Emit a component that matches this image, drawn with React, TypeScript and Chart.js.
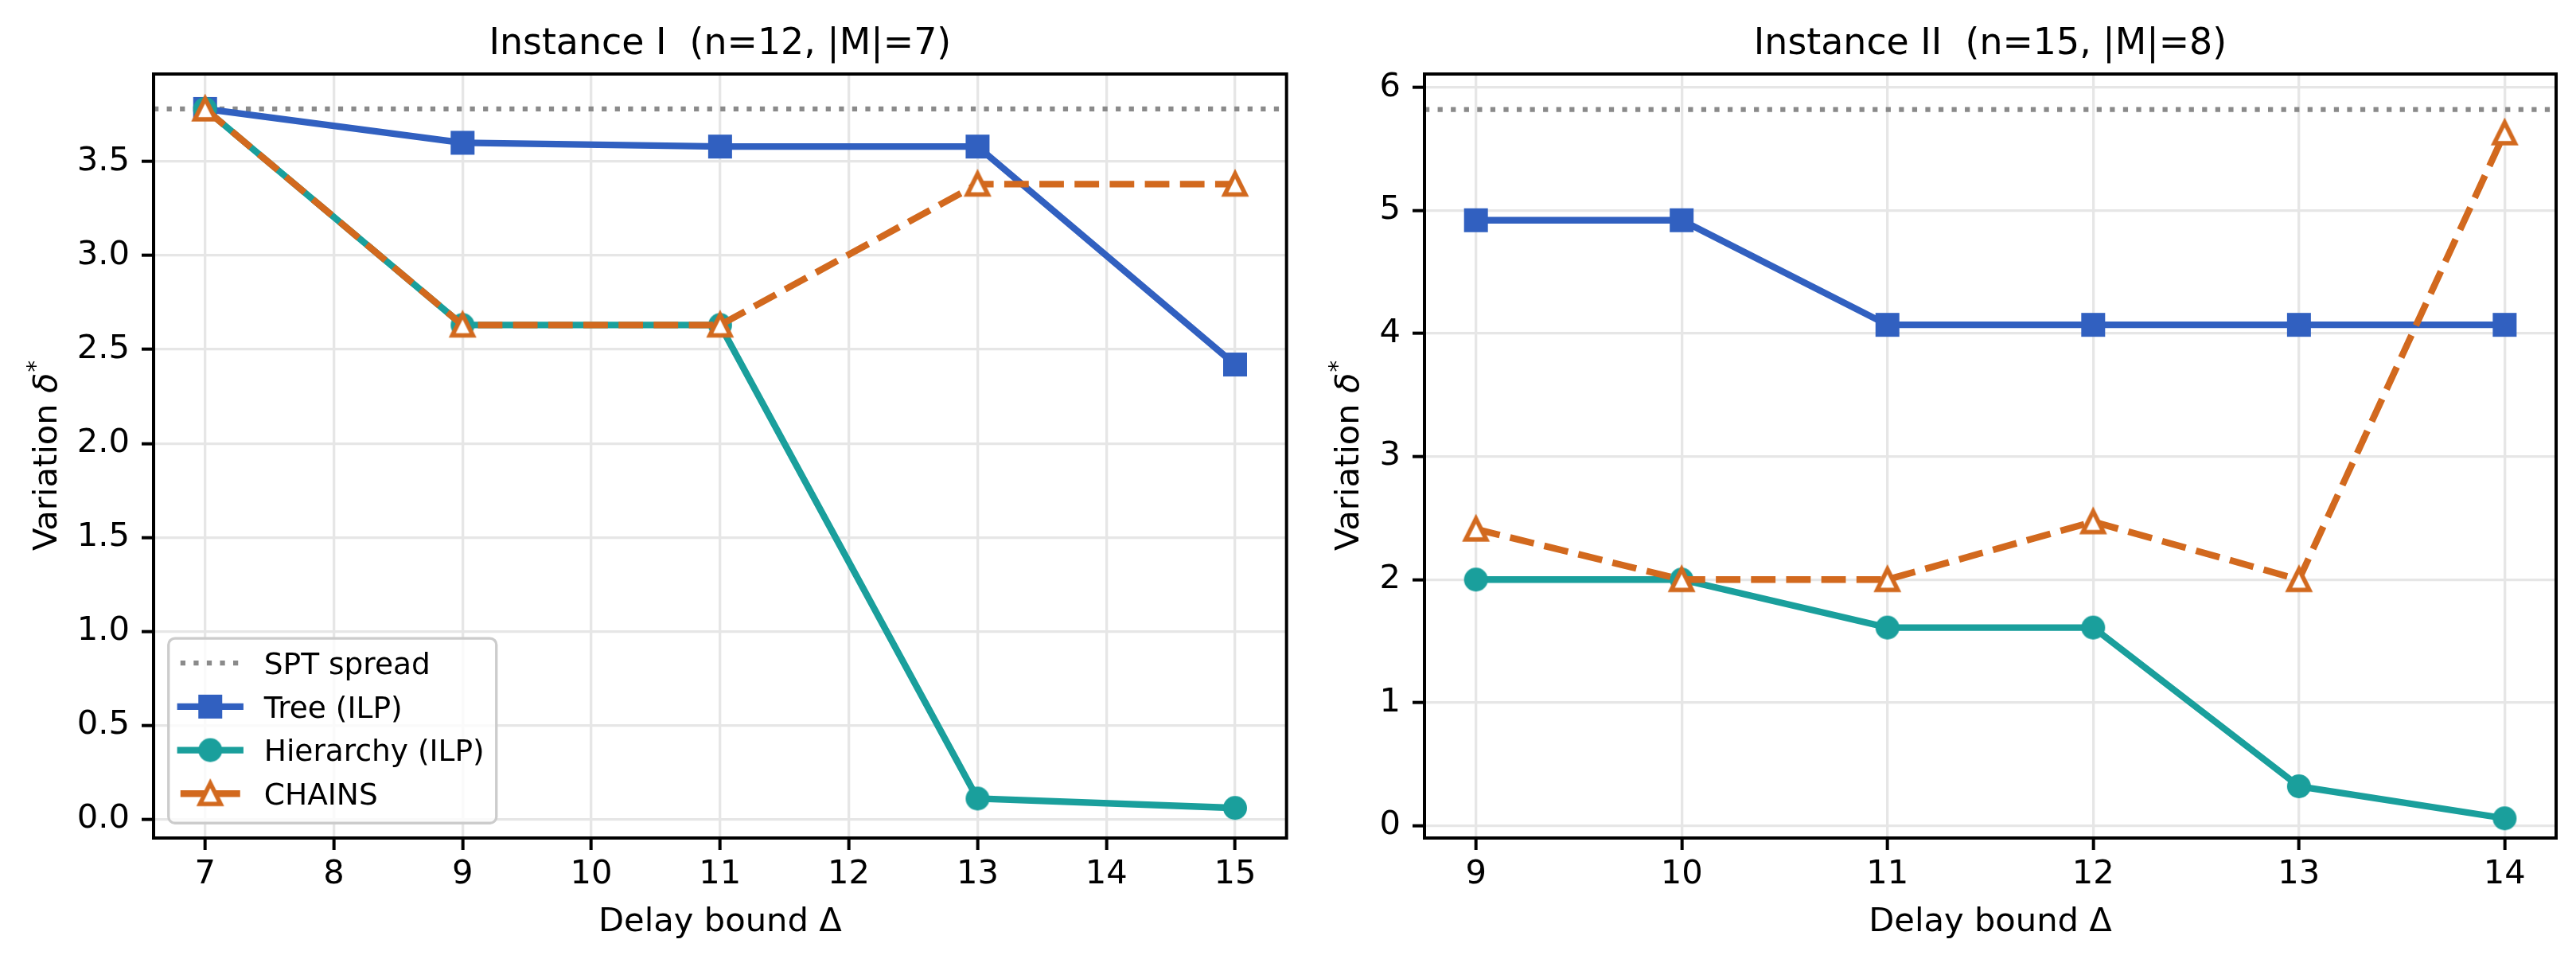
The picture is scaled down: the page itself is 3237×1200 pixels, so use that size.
import React, { useEffect, useRef } from 'react';
import { Chart, registerables } from 'chart.js';

Chart.register(...registerables);

// ---------------- data ----------------
// Instance I  (n=12, |M|=7)
const deltaI = [7, 9, 11, 13, 15];
const treeI = [3.78, 3.6, 3.58, 3.58, 2.42];
const hierI = [3.78, 2.63, 2.63, 0.11, 0.06];
const chainsI = [3.78, 2.63, 2.63, 3.38, 3.38];
const sptI = 3.78;

// Instance II  (n=15, |M|=8)
const deltaII = [9, 10, 11, 12, 13, 14];
const treeII = [4.92, 4.92, 4.07, 4.07, 4.07, 4.07];
const hierII = [2.0, 2.0, 1.61, 1.61, 0.32, 0.06];
const chainsII = [2.41, 2.0, 2.0, 2.47, 2.0, 5.63];
const sptII = 5.82;

const titleI = 'Instance I  (n=12, |M|=7)';
const titleII = 'Instance II  (n=15, |M|=8)';
const seriesLabels = ['SPT spread', 'Tree (ILP)', 'Hierarchy (ILP)', 'CHAINS'];
const xTitle = 'Delay bound Δ';
const yTitleMain = 'Variation ';
const yTitleSym = 'δ';
const yTitleSup = '*';

// ---------------- style ----------------
const FONT = '"DejaVu Sans"';
const PT = 300 / 72;
const TICK_FS = 10 * PT;
const LABEL_FS = 10 * PT;
const LEGEND_FS = 9 * PT;
const TITLE_FS = 11 * PT;
const BLUE = '#3160c0';
const TEAL = '#1a9f9c';
const ORANGE = '#d2691e';
const SPT_GRAY = '#8a8a8a';
const GRID = '#e6e6e6';
const LW = 2 * PT;

function makeMarker(kind: string): HTMLCanvasElement {
  const c = document.createElement('canvas');
  c.width = 46;
  c.height = 46;
  const g = c.getContext('2d') as CanvasRenderingContext2D;
  const cx = 23;
  const cy = 23;
  if (kind === 'square') {
    g.fillStyle = BLUE;
    g.fillRect(cx - 15, cy - 15, 30, 30);
  } else if (kind === 'circle') {
    g.fillStyle = TEAL;
    g.beginPath();
    g.arc(cx, cy, 15, 0, Math.PI * 2);
    g.fill();
  } else {
    const h = 13;
    g.beginPath();
    g.moveTo(cx, cy - h);
    g.lineTo(cx - h, cy + h);
    g.lineTo(cx + h, cy + h);
    g.closePath();
    g.fillStyle = '#ffffff';
    g.fill();
    g.lineWidth = 5.5;
    g.lineJoin = 'miter';
    g.strokeStyle = ORANGE;
    g.stroke();
  }
  return c;
}

function drawLegend(ctx: CanvasRenderingContext2D, a: any, datasets: any[]) {
  const fs = LEGEND_FS;
  ctx.save();
  ctx.font = `${fs}px ${FONT}`;
  const textW = Math.max(...datasets.map((d) => ctx.measureText(d.label).width));
  const pad = 0.4 * fs;
  const handleLen = 2 * fs;
  const handlePad = 0.8 * fs;
  const axPad = 0.5 * fs;
  const rowGap = 54.7;
  const x0 = a.left + axPad;
  const y1 = a.bottom - axPad;
  const w = pad + handleLen + handlePad + textW + pad;
  const lastCenter = y1 - 37;
  const firstCenter = lastCenter - (datasets.length - 1) * rowGap;
  const y0 = firstCenter - 31;
  const r = 8;
  const x1 = x0 + w;
  ctx.beginPath();
  ctx.moveTo(x0 + r, y0);
  ctx.lineTo(x1 - r, y0);
  ctx.arcTo(x1, y0, x1, y0 + r, r);
  ctx.lineTo(x1, y1 - r);
  ctx.arcTo(x1, y1, x1 - r, y1, r);
  ctx.lineTo(x0 + r, y1);
  ctx.arcTo(x0, y1, x0, y1 - r, r);
  ctx.lineTo(x0, y0 + r);
  ctx.arcTo(x0, y0, x0 + r, y0, r);
  ctx.closePath();
  ctx.fillStyle = 'rgba(255,255,255,0.8)';
  ctx.fill();
  ctx.strokeStyle = '#cccccc';
  ctx.lineWidth = 0.8 * PT;
  ctx.stroke();

  datasets.forEach((d, i) => {
    const cy = firstCenter + i * rowGap;
    const hx0 = x0 + pad;
    const hx1 = hx0 + handleLen;
    ctx.save();
    ctx.strokeStyle = d.borderColor;
    ctx.lineWidth = d.borderWidth;
    const dash = d.borderDash || [];
    ctx.setLineDash(dash);
    ctx.lineCap = dash.length ? 'butt' : 'square';
    ctx.beginPath();
    ctx.moveTo(hx0, cy);
    ctx.lineTo(hx1, cy);
    ctx.stroke();
    ctx.restore();
    const m = d.pointStyle;
    if (m && typeof m === 'object') {
      ctx.drawImage(m, (hx0 + hx1) / 2 - m.width / 2, cy - m.height / 2);
    }
    ctx.fillStyle = '#000';
    ctx.textAlign = 'left';
    ctx.textBaseline = 'alphabetic';
    ctx.fillText(d.label, hx1 + handlePad, cy + (0.729 * fs) / 2);
  });
  ctx.restore();
}

const decorPlugin = {
  id: 'decor',
  afterDatasetsDraw(chart: any, _args: any, opts: any) {
    const { ctx, chartArea: a } = chart;
    ctx.save();
    ctx.strokeStyle = '#000';
    ctx.lineWidth = 4;
    ctx.strokeRect(a.left, a.top, a.right - a.left, a.bottom - a.top);
    ctx.restore();
    if (opts.legend) drawLegend(ctx, a, chart.data.datasets);
  },
  afterDraw(chart: any, _args: any, opts: any) {
    const { ctx, chartArea: a } = chart;
    const cx = (a.left + a.right) / 2;
    const cy = (a.top + a.bottom) / 2;
    ctx.save();
    ctx.fillStyle = '#000';
    ctx.textBaseline = 'alphabetic';
    ctx.textAlign = 'center';
    // title
    ctx.font = `${TITLE_FS}px ${FONT}`;
    ctx.fillText(opts.title, cx, a.top - 25);
    // x title
    ctx.font = `${LABEL_FS}px ${FONT}`;
    ctx.fillText(xTitle, cx, a.bottom + 117);
    // y title
    const ys = chart.scales.y;
    ctx.font = `${TICK_FS}px ${FONT}`;
    const widest = Math.max(...ys.ticks.map((t: any) => ctx.measureText(String(t.label)).width));
    const bx = a.left - 15 - 15 - widest - 26;
    ctx.translate(bx, cy);
    ctx.rotate(-Math.PI / 2);
    ctx.textAlign = 'left';
    ctx.font = `${LABEL_FS}px ${FONT}`;
    const w1 = ctx.measureText(yTitleMain).width;
    ctx.font = `italic ${LABEL_FS}px ${FONT}`;
    const w2 = ctx.measureText(yTitleSym).width;
    ctx.font = `${LABEL_FS * 0.7}px ${FONT}`;
    const w3 = ctx.measureText(yTitleSup).width;
    let x = -(w1 + w2 + w3) / 2;
    ctx.font = `${LABEL_FS}px ${FONT}`;
    ctx.fillText(yTitleMain, x, 0);
    x += w1;
    ctx.font = `italic ${LABEL_FS}px ${FONT}`;
    ctx.fillText(yTitleSym, x, 0);
    x += w2 + 1;
    ctx.font = `${LABEL_FS * 0.7}px ${FONT}`;
    ctx.fillText(yTitleSup, x, -17);
    ctx.restore();
  },
};

function buildConfig(p: any, markers: any) {
  const xMinD = Math.min(...p.xs);
  const xMaxD = Math.max(...p.xs);
  const xMin = xMinD - 0.05 * (xMaxD - xMinD);
  const xMax = xMaxD + 0.05 * (xMaxD - xMinD);
  const all = [...p.tree, ...p.hier, ...p.chains, p.spt];
  const yMaxD = Math.max(...all);
  const yMinD = Math.min(...all);
  const yMax = yMaxD + 0.05 * (yMaxD - yMinD);
  const yMin = -0.1;
  const pts = (ys: number[]) => p.xs.map((x: number, i: number) => ({ x, y: ys[i] }));
  return {
    type: 'line',
    data: {
      datasets: [
        {
          label: seriesLabels[0],
          data: [
            { x: xMin, y: p.spt },
            { x: xMax, y: p.spt },
          ],
          borderColor: SPT_GRAY,
          borderWidth: 1.5 * PT,
          borderDash: [1.5 * PT, 1.65 * 1.5 * PT],
          pointRadius: 0,
          pointHoverRadius: 0,
          order: 4,
        },
        {
          label: seriesLabels[1],
          data: pts(p.tree),
          borderColor: BLUE,
          backgroundColor: BLUE,
          borderWidth: LW,
          pointStyle: markers.square,
          pointRadius: 15,
          order: 3,
        },
        {
          label: seriesLabels[2],
          data: pts(p.hier),
          borderColor: TEAL,
          backgroundColor: TEAL,
          borderWidth: LW,
          pointStyle: markers.circle,
          pointRadius: 15,
          order: 2,
        },
        {
          label: seriesLabels[3],
          data: pts(p.chains),
          borderColor: ORANGE,
          backgroundColor: '#ffffff',
          borderWidth: LW,
          borderDash: [3.7 * LW, 1.6 * LW],
          pointStyle: markers.triangle,
          pointRadius: 15,
          order: 1,
        },
      ],
    },
    options: {
      animation: false,
      responsive: false,
      devicePixelRatio: 1,
      events: [],
      layout: { padding: { left: 0, right: p.padRight, top: 93, bottom: 0 } },
      elements: { line: { tension: 0, borderJoinStyle: 'round' } },
      plugins: {
        legend: { display: false },
        tooltip: { enabled: false },
        title: { display: false },
        decor: { title: p.title, legend: p.legend },
      },
      scales: {
        x: {
          type: 'linear',
          min: xMin,
          max: xMax,
          afterFit: (s: any) => {
            s.height = 147;
          },
          ticks: {
            stepSize: 1,
            includeBounds: false,
            autoSkip: false,
            maxRotation: 0,
            padding: 6,
            color: '#000',
            font: { family: 'DejaVu Sans', size: TICK_FS },
          },
          grid: {
            color: GRID,
            lineWidth: 0.8 * PT,
            drawTicks: true,
            tickLength: 15,
            tickColor: '#000',
            tickWidth: 4,
          },
          border: { display: false },
        },
        y: {
          type: 'linear',
          min: yMin,
          max: yMax,
          afterFit: (s: any) => {
            s.width = p.yAxisWidth;
          },
          ticks: {
            stepSize: p.yStep,
            includeBounds: false,
            autoSkip: false,
            padding: 15,
            color: '#000',
            font: { family: 'DejaVu Sans', size: TICK_FS },
            callback: (v: number) => v.toFixed(p.yDecimals),
          },
          grid: {
            color: GRID,
            lineWidth: 0.8 * PT,
            drawTicks: true,
            tickLength: 15,
            tickColor: '#000',
            tickWidth: 4,
          },
          border: { display: false },
        },
      },
    },
    plugins: [decorPlugin],
  };
}

const W1 = 1640;
const W2 = 3237 - W1;
const H = 1200;

export default function App() {
  const ref1 = useRef<HTMLCanvasElement>(null);
  const ref2 = useRef<HTMLCanvasElement>(null);

  useEffect(() => {
    Chart.defaults.font.family = 'DejaVu Sans';
    const markers = {
      square: makeMarker('square'),
      circle: makeMarker('circle'),
      triangle: makeMarker('triangle'),
    };
    const c1 = new Chart(
      ref1.current as HTMLCanvasElement,
      buildConfig(
        {
          xs: deltaI,
          tree: treeI,
          hier: hierI,
          chains: chainsI,
          spt: sptI,
          title: titleI,
          yStep: 0.5,
          yDecimals: 1,
          padRight: W1 - 1618,
          yAxisWidth: 193,
          legend: true,
        },
        markers
      ) as any
    );
    const c2 = new Chart(
      ref2.current as HTMLCanvasElement,
      buildConfig(
        {
          xs: deltaII,
          tree: treeII,
          hier: hierII,
          chains: chainsII,
          spt: sptII,
          title: titleII,
          yStep: 1,
          yDecimals: 0,
          padRight: 3212 - W1 > 0 ? W2 - (3212 - W1) : 25,
          yAxisWidth: 1790 - W1,
          legend: false,
        },
        markers
      ) as any
    );
    return () => {
      c1.destroy();
      c2.destroy();
    };
  }, []);

  return (
    <div style={{ position: 'absolute', left: 0, top: 0, width: 3237, height: H, background: '#fff' }}>
      <canvas
        ref={ref1}
        width={W1}
        height={H}
        style={{ position: 'absolute', left: 0, top: 0, width: W1, height: H }}
      />
      <canvas
        ref={ref2}
        width={W2}
        height={H}
        style={{ position: 'absolute', left: W1, top: 0, width: W2, height: H }}
      />
    </div>
  );
}
